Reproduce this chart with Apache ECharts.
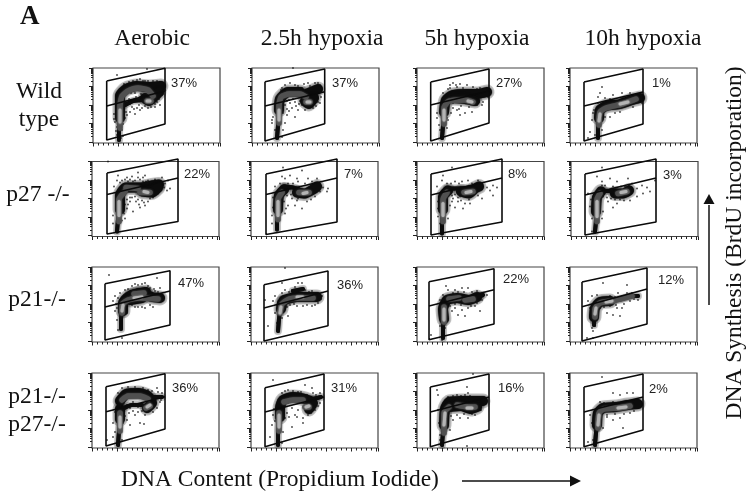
<!DOCTYPE html>
<html><head><meta charset="utf-8">
<style>html,body{margin:0;padding:0;background:#fff}#c{width:753px;height:496px}</style>
<script src="https://cdn.jsdelivr.net/npm/echarts@6/dist/echarts.min.js"></script>
</head><body><div id="c"></div>
<script>
const columns = ['Aerobic','2.5h hypoxia','5h hypoxia','10h hypoxia'];
const percents = [['37%','37%','27%','1%'],['22%','7%','8%','3%'],['47%','36%','22%','12%'],['36%','31%','16%','2%']];
const yMajor = [74,55.5,37,18.5,0];
const yMinorStep = [5.6,8.8,11.1,12.9,14.4,15.6,16.7,17.6];

// gate: xLeft,xRight, topL,topR, midL,midR, botL,botR  (scatter channels, read from top-left)
const wtAerGate=[13.7,72,13,0.3,38,23,72,56];
const wtAerWide=[[[27,50],[27,40],[27,28],[33,21],[44,18],[56,19],[68,18]],[[52,30],[56,33],[60,30],[66,24]]];
const wtAerThin=[[[26,72],[26,60],[28,48]],[[30,38],[40,33],[50,32]]];
const wtAerDark=[[[27,60],[27,38],[29,28],[35,23],[45,20],[55,22],[60,28]],[[54,33],[58,33]]];
const wtAerCore=[[[27,54],[27,42]],[[54,33],[57,33]]];
const wtAerDots=[[21,46],[22,54],[21,51],[24,59],[34,47],[37,44],[42,46],[34,37],[37,36],[41,41],[46,37],[47,42],[62,36],[67,37],[66,31],[69,27],[67,14],[44,12],[47,11],[52,13],[31,16],[27,21],[24,7],[54,1],[62,19],[36,14],[40,13],[50,13],[55,13],[60,13],[64,13],[70,15],[71,19],[72,22],[38,25],[42,25],[48,26],[52,27],[66,27],[70,26],[64,34],[58,39],[55,40],[52,38],[23,63],[24,67],[29,62],[30,56],[32,50],[30,68],[28,70],[33,34],[36,31],[43,29],[47,29],[24,48],[24,42],[33,44],[31,47],[39,39],[44,40],[49,40],[62,39]];

const wt25Gate=[13,72.7,13.7,1,38,23.7,73,55.7];
const wt25Wide=[[[27,42],[28,31],[36,24],[48,24]],[[54,26],[66,21]],[[53,33],[57,36],[62,30]]];
const wt25Thin=[[[25,70],[26,58],[27,46]]];
const wt25Dark=[[[27,55],[27,38],[29,29],[37,26],[48,26],[54,29]],[[54,34],[58,34]]];
const wt25Core=[[[27,52],[27,42]],[[55,34],[58,34]]];
const wt25Dots=[[21,49],[20,55],[23,62],[33,17],[38,15],[43,17],[50,20],[56,15],[63,15],[68,17],[69,29],[66,34],[61,40],[53,42],[46,42],[43,49],[35,47],[38,35],[43,34],[33,37],[40,40],[33,55],[31,62],[28,25],[30,69],[20,52],[41,0],[35,33],[47,36],[50,37],[44,38],[37,43],[58,18],[66,15],[52,16],[46,18],[30,20],[29,22],[31,45],[35,41],[48,33],[41,31],[37,32],[50,30],[68,35],[64,38]];

const wt5Gate=[13.7,72,14,1,37,23,73,55];
const wt5Wide=[[[27,44],[29,32],[36,27],[50,26],[60,26],[70,24]],[[35,30],[48,31],[58,33]]];
const wt5Thin=[[[25,70],[26,58],[27,46]]];
const wt5Dark=[[[27,56],[27,40],[32,33],[48,32],[56,34]]];
const wt5Core=[[[27,52],[27,42]],[[51,33],[55,34]]];
const wt5Dots=[[20,50],[22,57],[23,62],[20,45],[30,60],[31,52],[36,15],[43,16],[50,17],[56,19],[63,20],[71,29],[66,34],[60,37],[55,44],[48,45],[43,47],[36,35],[40,42],[26,25],[31,21],[40,19],[70,20],[33,20],[46,20],[54,22],[60,21],[66,22],[62,34],[52,39],[44,38],[36,40],[42,41],[34,45],[30,50],[65,37],[39,17],[33,17],[24,37]];

const wt10Gate=[14,73,14,1,38,24,73,56];
const wt10Wide=[[[29,50],[30,42],[36,38],[50,36],[62,32],[70,30]]];
const wt10Thin=[[[28,70],[28,58],[29,50]]];
const wt10Dark=[[[29,57],[30,44],[36,40],[52,36],[66,31]]];
const wt10Core=[[[29,53],[30,46]],[[50,36],[58,34]]];
const wt10Dots=[[23,45],[22,52],[20,64],[24,42],[18,70],[32,19],[30,25],[28,29],[35,30],[43,27],[52,25],[60,25],[32,62],[40,49],[45,45],[50,44],[35,49],[63,39],[72,35],[25,67],[28,35],[40,31],[53,30]];

const p27AerGate=[15,86,11.5,-2.5,33,16.5,72.5,60];
const p27AerWide=[[[28,48],[28,34],[34,26],[48,26],[60,24],[67,23]],[[50,30],[60,31],[66,26]]];
const p27AerThin=[[[25,70],[26,58],[27,48]]];
const p27AerDark=[[[27,60],[27,38],[33,30]],[[48,31],[58,31]],[[34,26],[46,27]]];
const p27AerCore=[[[27,54],[27,40]],[[52,30],[56,31]]];
const p27AerDots=[[26,14],[35,16],[40,15],[46,11],[51,16],[56,19],[63,18],[70,16],[76,19],[73,22],[78,27],[75,29],[66,32],[53,44],[50,39],[43,35],[38,40],[41,50],[35,47],[30,59],[21,54],[21,62],[22,25],[25,19],[30,19],[36,20],[43,19],[51,20],[16,0],[33,57],[48,46],[56,40],[33,18],[38,18],[48,18],[54,20],[60,20],[46,38],[52,41],[40,36],[28,21],[41,20],[46,16],[53,14],[35,38],[38,36],[44,40],[58,37],[61,36],[72,26],[69,27],[33,43],[36,43],[32,52],[47,43],[65,21]];

const p27h25Gate=[15,86,12.5,-2.5,33,16.5,73,60.5];
const p27h25Wide=[[[27,48],[28,34],[33,28]],[[46,31],[54,32],[62,28],[66,25]]];
const p27h25Thin=[[[26,68],[26,58],[27,48]],[[33,25],[42,26],[48,28]]];
const p27h25Dark=[[[27,58],[27,38],[31,31]],[[48,31],[58,31]]];
const p27h25Core=[[[27,54],[27,40]],[[52,32],[56,31]]];
const p27h25Dots=[[21,54],[21,62],[34,52],[37,44],[44,44],[51,47],[56,40],[64,35],[41,37],[47,37],[67,24],[72,26],[77,27],[76,30],[69,30],[34,17],[39,14],[51,9],[57,17],[66,17],[46,17],[29,22],[24,25],[32,6],[61,20],[47,20],[37,22],[31,15],[36,34],[33,40],[40,33],[46,39],[60,38],[42,22],[54,22],[60,24],[22,36],[22,46],[35,47]];

const p27h5Gate=[14,85,12.5,-2.5,33.5,16.5,73.5,60.5];
const p27h5Wide=[[[26,48],[26,35],[31,29]],[[44,30],[52,32],[58,27],[62,25]]];
const p27h5Thin=[[[25,72],[25,60],[26,48]],[[30,27],[44,27],[52,26]]];
const p27h5Dark=[[[26,60],[26,38],[30,31]],[[47,31],[56,30]]];
const p27h5Core=[[[26,54],[26,42]],[[49,31],[54,30]]];
const p27h5Dots=[[20,25],[25,19],[26,14],[35,6],[38,20],[45,20],[51,19],[61,19],[65,24],[70,26],[76,24],[80,26],[73,29],[76,34],[65,37],[61,34],[36,37],[41,40],[33,44],[38,46],[46,47],[53,42],[31,57],[21,55],[35,34],[43,35],[24,72],[23,62],[38,33],[35,40],[41,36],[44,39],[48,42],[52,38],[30,22],[34,22],[42,22],[55,22],[21,40],[21,47]];

const p27h10Gate=[14,85,12.5,-2.5,33.5,16.5,73.5,60.5];
const p27h10Wide=[[[25,50],[26,36],[30,30]],[[44,32],[52,32],[58,29]]];
const p27h10Thin=[[[24,70],[25,58],[25,50]],[[30,29],[44,30]]];
const p27h10Dark=[[[26,60],[26,38],[29,32]],[[47,32],[56,30]]];
const p27h10Core=[[[26,55],[26,40]],[[50,31],[55,30]]];
const p27h10Dots=[[31,24],[26,15],[31,20],[39,29],[46,20],[54,25],[61,22],[66,27],[71,24],[76,26],[72,32],[66,35],[59,39],[46,42],[37,40],[42,46],[17,32],[19,45],[21,57],[32,50],[84,19],[31,6],[31,57],[21,70],[39,17],[57,17],[79,30],[32,35],[36,36],[40,37],[44,38],[49,38],[53,39],[34,24],[42,25],[50,25],[58,24],[20,38]];

const p21AerGate=[13,78,16.7,3.7,40,24,73,58];
const p21AerWide=[[[31,44],[31,36],[36,30],[48,26],[60,30],[68,31]],[[40,28],[54,25]],[[38,33],[50,31]]];
const p21AerThin=[[[29,62],[29,52],[30,44]]];
const p21AerDark=[[[30,46],[30,38],[36,33],[48,31],[66,32]],[[42,27],[52,26]]];
const p21AerCore=[[[30,44],[31,38]],[[42,31],[50,30]]];
const p21AerDots=[[17,8],[26,63],[30,71],[23,44],[25,53],[21,34],[23,29],[28,26],[33,23],[40,19],[46,18],[53,16],[58,21],[65,11],[68,21],[70,29],[69,34],[61,40],[53,41],[46,40],[40,38],[35,41],[35,46],[31,48],[63,24],[36,22],[43,17],[50,17],[56,19],[62,22],[66,25],[26,31],[24,37],[25,41],[58,38],[50,40],[43,40],[72,31]];

const p21h25Gate=[13,77,17.7,4,41,24,74,58.7];
const p21h25Wide=[[[30,42],[31,36]],[[33,33],[46,30],[58,30],[66,30]]];
const p21h25Thin=[[[27,64],[28,52],[29,44]],[[42,24],[52,22]]];
const p21h25Dark=[[[29,46],[31,37],[38,32],[50,31],[62,31]]];
const p21h25Core=[[[29,46],[30,40]],[[46,30],[52,30]]];
const p21h25Dots=[[26,56],[24,46],[26,38],[22,34],[24,29],[31,26],[36,28],[41,23],[47,16],[51,16],[54,23],[61,24],[66,26],[71,29],[67,36],[61,39],[52,39],[46,39],[39,38],[34,41],[37,49],[31,51],[31,16],[34,23],[17,59],[34,1],[14,33],[26,63],[38,25],[44,20],[48,22],[58,25],[70,32],[64,38],[56,38],[43,37],[36,40]];

const p21h5Gate=[12,77,14.7,1.7,39,22.7,72.7,57];
const p21h5Wide=[[[27,52],[26,42],[30,33],[40,31],[52,33],[60,30]]];
const p21h5Thin=[[[26,71],[26,60],[27,52]],[[60,30],[66,28]]];
const p21h5Dark=[[[27,55],[27,40]],[[32,32],[42,31]],[[48,33],[56,32]]];
const p21h5Core=[[[27,53],[27,42]]];
const p21h5Dots=[[29,19],[31,23],[38,23],[45,21],[51,21],[60,24],[66,26],[70,28],[65,33],[58,39],[51,41],[45,43],[41,48],[38,41],[48,49],[35,44],[23,51],[23,59],[28,61],[25,73],[14,68],[23,33],[26,28],[33,28],[63,44],[36,26],[41,25],[47,25],[55,25],[60,36],[54,39],[44,38],[38,37],[33,39]];

const p21h10Gate=[12,77,15,1,39.7,22,74,57];
const p21h10Wide=[[[24,50],[25,41],[30,35],[40,34]]];
const p21h10Thin=[[[24,58],[24,50]],[[40,34],[52,32],[62,29],[68,29]]];
const p21h10Dark=[[[25,50],[25,42],[30,36],[42,34],[54,31],[62,29]]];
const p21h10Core=[[[25,47],[26,41]],[[36,35],[42,34]]];
const p21h10Dots=[[23,71],[23,64],[25,59],[22,61],[24,54],[20,48],[18,34],[22,29],[27,28],[33,31],[40,29],[48,26],[57,26],[62,26],[68,28],[68,33],[60,34],[52,41],[43,48],[37,46],[47,41],[33,16],[57,18],[30,41],[50,49],[17,71],[45,30],[52,29],[64,32],[54,37],[46,38],[40,39],[34,40],[20,41]];

const dkAerGate=[14,73,13.7,0.7,38.7,23.7,73,56];
const dkAerWide=[[[28,46],[28,36]],[[28,28],[34,21],[46,20],[56,23],[60,30],[55,35]]];
const dkAerThin=[[[26,72],[27,58],[28,46]],[[60,24],[70,24]],[[30,36],[40,32],[50,32]]];
const dkAerDark=[[[28,58],[28,40]],[[30,27],[36,23],[48,23],[56,26]],[[54,35],[58,33]]];
const dkAerCore=[[[28,54],[28,44]],[[55,34],[58,32]]];
const dkAerDots=[[21,50],[23,59],[21,64],[23,39],[26,20],[30,15],[36,14],[43,14],[51,15],[56,17],[65,15],[70,20],[69,27],[63,32],[61,39],[53,42],[43,42],[38,35],[46,34],[41,29],[35,47],[38,52],[48,50],[52,51],[15,67],[35,32],[30,67],[60,18],[66,19],[68,29],[65,35],[41,38],[37,40],[33,43],[31,50],[46,39],[50,38],[24,46]];

const dk25Gate=[14,73,14.7,1,39,24,73.7,56.7];
const dk25Wide=[[[29,44],[29,35],[32,27],[42,24],[54,26],[62,30],[58,36]]];
const dk25Thin=[[[27,72],[27,58],[28,46]],[[62,26],[70,24]]];
const dk25Dark=[[[28,58],[28,40]],[[33,29],[42,27],[52,27]],[[54,34],[58,34]]];
const dk25Core=[[[28,54],[28,42]],[[55,34],[58,33]]];
const dk25Dots=[[22,42],[21,52],[19,64],[31,20],[37,17],[47,19],[56,22],[62,20],[69,20],[69,30],[64,37],[57,42],[52,45],[52,50],[41,54],[34,45],[32,39],[41,35],[47,37],[37,30],[32,59],[22,7],[31,70],[54,12],[61,15],[44,42],[31,32],[65,22],[34,18],[42,18],[50,19],[67,33],[60,40],[36,40],[38,44],[46,44],[24,48],[23,36]];

const dk5Gate=[13.3,72,14,1,39,24,73.7,57];
const dk5Wide=[[[27,52],[28,36],[32,29],[44,28],[56,28],[66,28]],[[32,34],[44,33],[54,36],[60,34]]];
const dk5Thin=[[[25,72],[26,60],[27,52]]];
const dk5Dark=[[[27,60],[27,40],[32,34]],[[40,32],[52,34],[58,34]]];
const dk5Core=[[[27,52],[28,40]],[[50,35],[55,35]]];
const dk5Dots=[[20,17],[21,22],[50,14],[51,20],[21,37],[22,50],[23,62],[31,24],[40,22],[48,22],[58,24],[66,25],[68,30],[63,37],[58,42],[51,45],[43,45],[36,47],[33,57],[56,1],[50,73],[31,50],[23,67],[36,23],[44,23],[53,23],[64,37],[55,41],[47,41],[40,42],[34,43]];

const dk10Gate=[14,73,14,1,39,24,73.7,57];
const dk10Wide=[[[27,52],[28,40],[33,35],[46,34],[58,32],[68,31]]];
const dk10Thin=[[[25,72],[26,60],[27,52]]];
const dk10Dark=[[[28,55],[29,40],[34,36],[48,35],[60,33]]];
const dk10Core=[[[28,52],[29,42]],[[48,35],[56,34]]];
const dk10Dots=[[20,42],[22,50],[18,69],[23,67],[43,20],[57,20],[63,20],[50,22],[32,4],[30,29],[43,29],[52,29],[70,29],[70,34],[60,40],[50,45],[43,47],[37,44],[53,55],[33,55],[25,37],[37,42],[45,41],[54,41],[64,38],[34,30],[60,28]];

const gates=[[wtAerGate,wt25Gate,wt5Gate,wt10Gate],[p27AerGate,p27h25Gate,p27h5Gate,p27h10Gate],[p21AerGate,p21h25Gate,p21h5Gate,p21h10Gate],[dkAerGate,dk25Gate,dk5Gate,dk10Gate]];
const wides=[[wtAerWide,wt25Wide,wt5Wide,wt10Wide],[p27AerWide,p27h25Wide,p27h5Wide,p27h10Wide],[p21AerWide,p21h25Wide,p21h5Wide,p21h10Wide],[dkAerWide,dk25Wide,dk5Wide,dk10Wide]];
const thins=[[wtAerThin,wt25Thin,wt5Thin,wt10Thin],[p27AerThin,p27h25Thin,p27h5Thin,p27h10Thin],[p21AerThin,p21h25Thin,p21h5Thin,p21h10Thin],[dkAerThin,dk25Thin,dk5Thin,dk10Thin]];
const darks=[[wtAerDark,wt25Dark,wt5Dark,wt10Dark],[p27AerDark,p27h25Dark,p27h5Dark,p27h10Dark],[p21AerDark,p21h25Dark,p21h5Dark,p21h10Dark],[dkAerDark,dk25Dark,dk5Dark,dk10Dark]];
const cores=[[wtAerCore,wt25Core,wt5Core,wt10Core],[p27AerCore,p27h25Core,p27h5Core,p27h10Core],[p21AerCore,p21h25Core,p21h5Core,p21h10Core],[dkAerCore,dk25Core,dk5Core,dk10Core]];
const dots=[[wtAerDots,wt25Dots,wt5Dots,wt10Dots],[p27AerDots,p27h25Dots,p27h5Dots,p27h10Dots],[p21AerDots,p21h25Dots,p21h5Dots,p21h10Dots],[dkAerDots,dk25Dots,dk5Dots,dk10Dots]];

// layout
const rowTops=[68,161.5,267,373], colLefts=[[93,252,417,570],[92,251,417,571],[92,251,417,570],[92,251,417,570]];
const pctPos=[[[171,84],[332,84],[496,84],[652,84]],[[184,175],[344,175],[508,175],[663,176]],[[178,284],[337,286],[503,280],[658,281]],[[172,389],[331,389],[498,389],[649,390]]];
const W=127,H=75;
const serif='"Liberation Serif","Times New Roman",serif', sans='"Liberation Sans",Arial,sans-serif';
const minorVals=[];yMajor.slice(0,4).forEach(b=>yMinorStep.forEach(s=>minorVals.push(b-s)));

const grid=[],xAxis=[],yAxis=[],series=[],graphic=[];
function stroke(idx,yIdx,data,color,width,blur,z){series.push({type:'line',xAxisIndex:idx,yAxisIndex:yIdx,data,showSymbol:false,symbol:'none',smooth:0.2,silent:true,clip:true,z:z,
  lineStyle:{color,width,cap:'round',join:'round',shadowBlur:blur,shadowColor:blur?color:'transparent'}});}
for(let r=0;r<4;r++)for(let c=0;c<4;c++){
  const idx=grid.length, yIdx=idx*2;
  grid.push({left:colLefts[r][c],top:rowTops[r],width:W,height:H,show:true,borderColor:'#444',borderWidth:1.2,backgroundColor:'#fff'});
  xAxis.push({type:'value',gridIndex:idx,min:0,max:W,interval:25,position:'bottom',axisLabel:{show:false},splitLine:{show:false},
    axisLine:{show:false,onZero:false},axisTick:{show:true,length:3.5,lineStyle:{color:'#222',width:1}},
    minorTick:{show:true,splitNumber:5,length:2.5,lineStyle:{color:'#222',width:1}},minorSplitLine:{show:false}});
  yAxis.push({type:'value',gridIndex:idx,min:0,max:H,inverse:true,position:'left',axisLabel:{show:false},splitLine:{show:false},
    axisLine:{show:false,onZero:false},axisTick:{show:true,length:2,customValues:minorVals,lineStyle:{color:'#222',width:1}}});
  yAxis.push({type:'value',gridIndex:idx,min:0,max:H,inverse:true,position:'left',axisLabel:{show:false},splitLine:{show:false},
    axisLine:{show:false,onZero:false},axisTick:{show:true,length:4,customValues:yMajor,lineStyle:{color:'#222',width:1}}});
  wides[r][c].forEach(d=>stroke(idx,yIdx,d,'rgba(20,20,20,0.22)',15,2,1));
  thins[r][c].forEach(d=>stroke(idx,yIdx,d,'rgba(20,20,20,0.22)',8,2,1));
  series.push({type:'scatter',xAxisIndex:idx,yAxisIndex:yIdx,data:dots[r][c],symbolSize:1.8,silent:true,itemStyle:{color:'#111'},z:2});
  wides[r][c].forEach(d=>stroke(idx,yIdx,d,'#0c0c0c',10,2,3));
  thins[r][c].forEach(d=>stroke(idx,yIdx,d,'#0c0c0c',4,1,3));
  darks[r][c].forEach(d=>stroke(idx,yIdx,d,'#505050',5.5,2,4));
  cores[r][c].forEach(d=>stroke(idx,yIdx,d,'#b4b4b4',3,2,4));
  const g=gates[r][c];
  const line=(data)=>series.push({type:'line',xAxisIndex:idx,yAxisIndex:yIdx,data,symbol:'none',showSymbol:false,clip:false,silent:true,z:5,lineStyle:{color:'#0a0a0a',width:1.6}});
  line([[g[0],g[2]],[g[1],g[3]],[g[1],g[7]],[g[0],g[6]],[g[0],g[2]]]);
  line([[g[0],g[4]],[g[1],g[5]]]);
  graphic.push({type:'text',left:pctPos[r][c][0],top:pctPos[r][c][1]-7,style:{text:percents[r][c],font:'13px '+sans,fill:'#222'},z:10});
}
function label(text,cx,cy,size,extra){graphic.push(Object.assign({type:'text',x:cx,y:cy,style:Object.assign({text,font:size+'px '+serif,fill:'#111',textAlign:'center',textVerticalAlign:'middle'},extra||{}),z:10}));}
const colCenters=[152,322,477,643];
columns.forEach((t,i)=>label(t,colCenters[i],39,23.5));
label('Wild',39,92,23.5);label('type',39,120,23.5);
label('p27 -/-',38,195,23.5);label('p21-/-',37,300,23.5);label('p21-/-',37,397,23.5);label('p27-/-',37,425,23.5);
graphic.push({type:'text',x:20,y:4,style:{text:'A',font:'bold 27px '+serif,fill:'#111'},z:10});
label('DNA Content (Propidium Iodide)',280,480,23.5);
graphic.push({type:'text',x:735,y:243,rotation:Math.PI/2*1,style:{text:'DNA Synthesis (BrdU incorporation)',font:'23.5px '+serif,fill:'#111',textAlign:'center',textVerticalAlign:'middle'},z:10});
graphic.push({type:'line',shape:{x1:462,y1:481,x2:572,y2:481},style:{stroke:'#111',lineWidth:1.5}});
graphic.push({type:'polygon',shape:{points:[[570,475.5],[581,481],[570,486.5]]},style:{fill:'#111'}});
graphic.push({type:'line',shape:{x1:709,y1:305,x2:709,y2:205},style:{stroke:'#111',lineWidth:1.5}});
graphic.push({type:'polygon',shape:{points:[[703.5,204],[709,194],[714.5,204]]},style:{fill:'#111'}});

const chart=echarts.init(document.getElementById('c'),null,{renderer:'canvas'});
chart.setOption({animation:false,backgroundColor:'#fff',grid,xAxis,yAxis,series,graphic});
</script></body></html>
